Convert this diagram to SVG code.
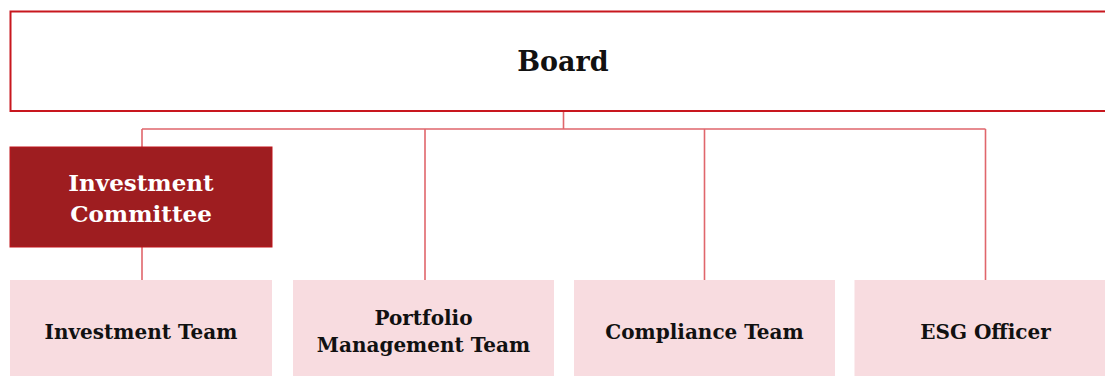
<svg xmlns="http://www.w3.org/2000/svg" width="1105" height="376" viewBox="0 0 1105 376">
<style>
.t{font-family:"DejaVu Serif","Liberation Serif",serif;font-weight:bold;text-anchor:middle}
.lbl{font-size:20px;fill:#111}
.conn{fill:none;stroke:#E0666C;stroke-width:1.6}
.pink{fill:#F8DCE0}
</style>
<rect x="0" y="0" width="1105" height="376" fill="#fff"/>
<g id="connectors">
<path class="conn" d="M563.5 111V129M142 129H985.5M142 129V147M425 129V280M704.5 129V280M985.5 129V280M142 247V280"/>
</g>
<g id="board">
<rect x="10.5" y="11.5" width="1106" height="99.5" fill="#fff" stroke="#C8171E" stroke-width="2"/>
<text class="t" x="563" y="71" font-size="27" fill="#111">Board</text>
</g>
<g id="investment-committee">
<rect x="10" y="147" width="262" height="100" fill="#9E1D20" stroke="#C0141A" stroke-width="1"/>
<text class="t" x="141" y="191" font-size="23" fill="#fff">Investment</text>
<text class="t" x="141" y="221.5" font-size="23" fill="#fff">Committee</text>
</g>
<g id="investment-team">
<rect class="pink" x="10" y="280" width="262" height="100"/>
<text class="t lbl" x="141" y="339">Investment Team</text>
</g>
<g id="portfolio-management-team">
<rect class="pink" x="293" y="280" width="261" height="100"/>
<text class="t lbl" x="423.5" y="324.5">Portfolio</text>
<text class="t lbl" x="423.5" y="352">Management Team</text>
</g>
<g id="compliance-team">
<rect class="pink" x="574" y="280" width="261" height="100"/>
<text class="t lbl" x="704.5" y="339">Compliance Team</text>
</g>
<g id="esg-officer">
<rect class="pink" x="854.5" y="280" width="262" height="100"/>
<text class="t lbl" x="985.5" y="339">ESG Officer</text>
</g>
</svg>
